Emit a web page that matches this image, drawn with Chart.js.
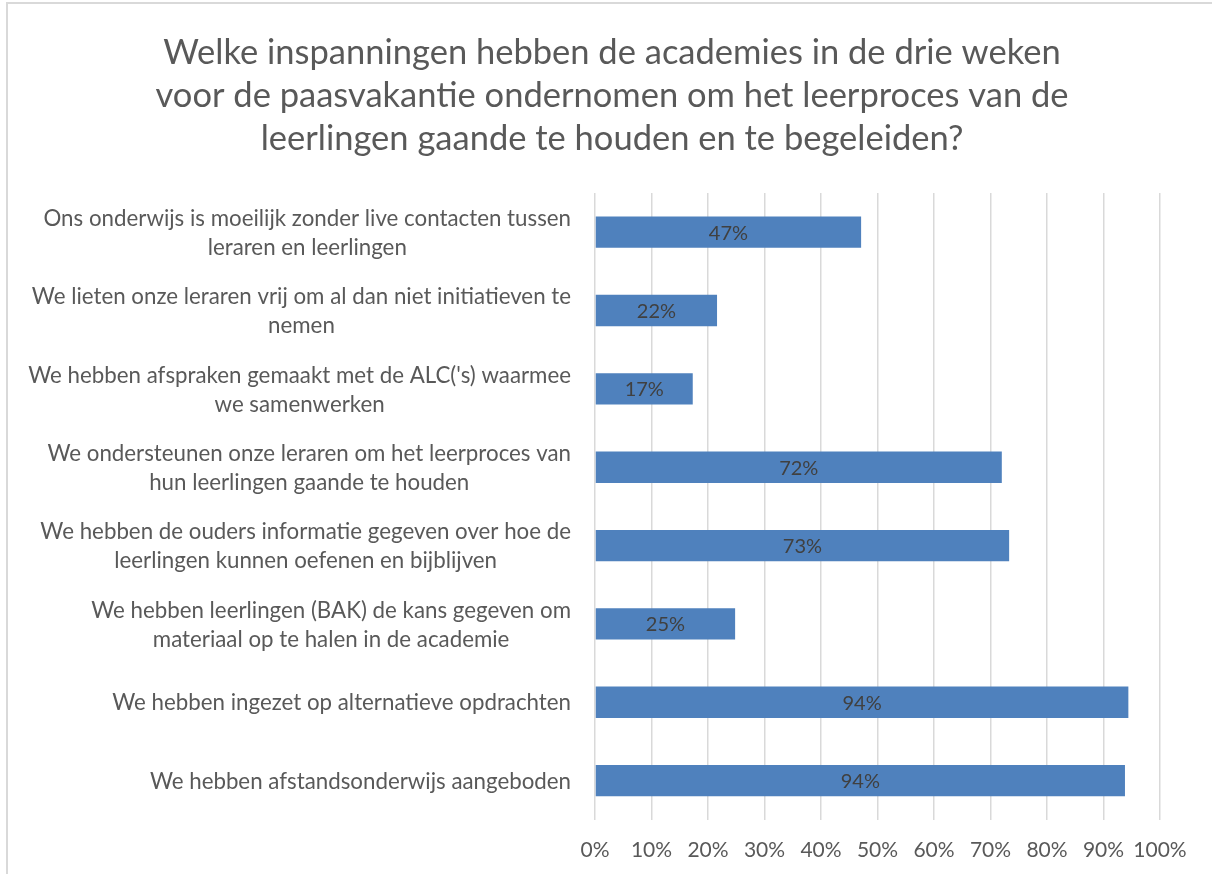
<!DOCTYPE html>
<html lang="nl">
<head>
  <meta charset="UTF-8" />
  <meta name="viewport" content="width=device-width, initial-scale=1.0" />
  <title>Inspanningen academies</title>
  <script src="https://cdn.jsdelivr.net/npm/chart.js"></script>
  <style>
    html, body {
      margin: 0;
      padding: 0;
      background: #fff;
    }
    .chart-box {
      position: absolute;
      left: 0;
      top: 0;
      width: 1212px;
      height: 874px;
    }
    .frame {
      position: absolute;
      left: 6px;
      top: 2px;
      width: 1206px;
      height: 872px;
      border-left: 2px solid #d9d9d9;
      border-top: 2px solid #d9d9d9;
      box-sizing: border-box;
      pointer-events: none;
    }
  </style>
</head>
<body>
  <div class="chart-box">
    <canvas id="effortChart"></canvas>
  </div>
  <div class="frame"></div>

  <script>
  const titleLines = [
    'Welke inspanningen hebben de academies in de drie weken',
    'voor de paasvakantie ondernomen om het leerproces van de',
    'leerlingen gaande te houden en te begeleiden?'
  ];

  const categories = [
    ['Ons onderwijs is moeilijk zonder live contacten tussen', 'leraren en leerlingen'],
    ['We lieten onze leraren vrij om al dan niet initiatieven te', 'nemen'],
    ["We hebben afspraken gemaakt met de ALC('s) waarmee", 'we samenwerken'],
    ['We ondersteunen onze leraren om het leerproces van', 'hun leerlingen gaande te houden'],
    ['We hebben de ouders informatie gegeven over hoe de', 'leerlingen kunnen oefenen en bijblijven'],
    ['We hebben leerlingen (BAK) de kans gegeven om', 'materiaal op te halen in de academie'],
    ['We hebben ingezet op alternatieve opdrachten'],
    ['We hebben afstandsonderwijs aangeboden']
  ];

  // percentages
  const values = [47.1, 21.6, 17.3, 72.0, 73.3, 24.8, 94.4, 93.8];

  const tickValues = [0, 10, 20, 30, 40, 50, 60, 70, 80, 90, 100];

  const textGrey = '#595959';
  const labelFont = 'Lato, "Open Sans", sans-serif';

  // draws the category labels: block right-aligned to the axis, lines centred
  const categoryLabels = {
    id: 'categoryLabels',
    afterDraw(chart) {
      const { ctx, chartArea } = chart;
      const yScale = chart.scales.y;
      ctx.save();
      ctx.font = '22.3px ' + labelFont;
      ctx.fillStyle = textGrey;
      ctx.textAlign = 'center';
      ctx.textBaseline = 'middle';
      categories.forEach((lines, i) => {
        const yc = yScale.getPixelForTick(i);
        const maxW = Math.max(...lines.map(l => ctx.measureText(l).width));
        const cx = chartArea.left - 24 - maxW / 2;
        lines.forEach((line, j) => {
          ctx.fillText(line, cx, yc + 1 + (j - (lines.length - 1) / 2) * 29);
        });
      });
      ctx.restore();
    }
  };

  // value labels in the middle of each bar
  const barLabels = {
    id: 'barLabels',
    afterDatasetsDraw(chart) {
      const { ctx } = chart;
      const meta = chart.getDatasetMeta(0);
      ctx.save();
      ctx.font = '20px ' + labelFont;
      ctx.fillStyle = '#404040';
      ctx.textAlign = 'center';
      ctx.textBaseline = 'middle';
      meta.data.forEach((bar, i) => {
        const { x, y, base } = bar.getProps(['x', 'y', 'base'], true);
        ctx.fillText(Math.round(values[i]) + '%', (x + base) / 2, y + 1);
      });
      ctx.restore();
    }
  };

  const ctx = document.getElementById('effortChart').getContext('2d');

  new Chart(ctx, {
    type: 'bar',
    data: {
      labels: categories,
      datasets: [{
        data: values,
        backgroundColor: '#4f81bd',
        borderWidth: 0,
        barPercentage: 0.4,
        categoryPercentage: 1
      }]
    },
    plugins: [categoryLabels, barLabels],
    options: {
      indexAxis: 'y',
      responsive: true,
      maintainAspectRatio: false,
      animation: false,
      layout: {
        padding: { left: 64, right: 52, top: 0, bottom: -7 }
      },
      plugins: {
        legend: { display: false },
        tooltip: { enabled: false },
        title: {
          display: true,
          text: titleLines,
          color: textGrey,
          font: { family: labelFont, weight: '400', size: 34.5, lineHeight: 43 / 34.5 },
          padding: { top: 31, bottom: 33 }
        }
      },
      scales: {
        x: {
          min: 0,
          max: 100,
          afterBuildTicks(scale) {
            scale.ticks = tickValues.map(v => ({ value: v }));
          },
          ticks: {
            callback: v => v + '%',
            color: textGrey,
            font: { family: labelFont, size: 21 },
            padding: 18,
            maxRotation: 0
          },
          grid: {
            color: '#d9d9d9',
            lineWidth: 1.5,
            drawTicks: false
          },
          border: { display: false }
        },
        y: {
          grid: { display: false },
          ticks: { display: false },
          border: { display: false },
          afterFit(scale) {
            scale.width = 531;
          }
        }
      }
    }
  });
  </script>
</body>
</html>
